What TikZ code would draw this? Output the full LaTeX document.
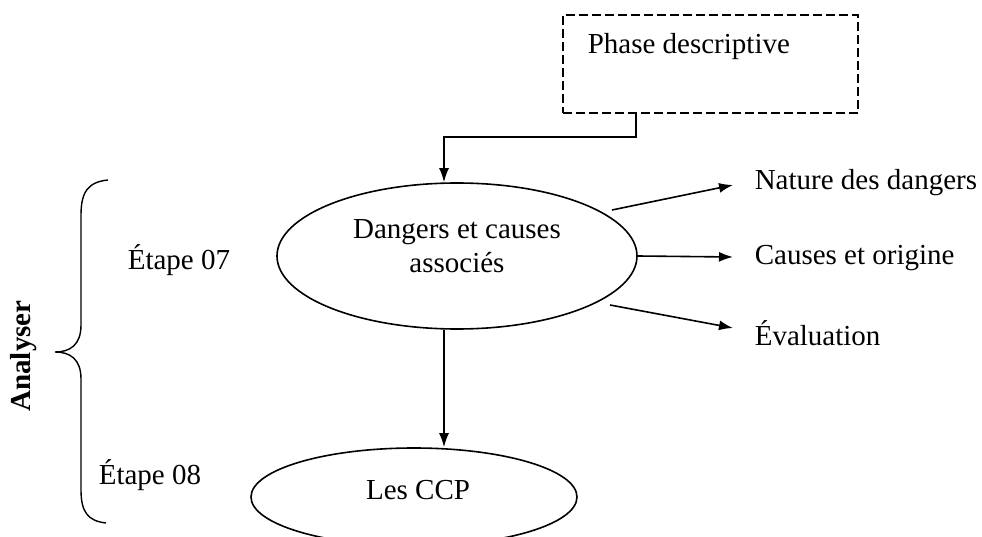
\documentclass[tikz,border=0pt]{standalone}
\usepackage{fontspec}
\setmainfont{Liberation Serif}
\usetikzlibrary{shapes.geometric,arrows.meta}
\begin{document}
\begin{tikzpicture}[x=1pt,y=-1pt,
  font=\fontsize{29}{34}\selectfont,
  line width=1.6pt,
  arr/.style={-{Latex[length=14pt,width=10pt]}},
  oval/.style={draw,ellipse,inner sep=0pt},
  lbl/.style={anchor=west,inner sep=0pt},
  dashbox/.style={draw,line width=1.9pt,dash pattern=on 9pt off 4pt,inner sep=0pt}]
\useasboundingbox (0,0) rectangle (982,537);

% upper block: descriptive phase
\node[dashbox,minimum width=295pt,minimum height=98pt] (phase) at (710.5,64) {};
\node[lbl] (phasetxt) at (587,47) {Phase descriptive};

% hazards and causes
\node[oval,minimum width=360pt,minimum height=146pt] (dang) at (457,256) {};
\node[align=center,inner sep=0pt] (dangtxt) at (457,246) {Dangers et causes\\associés};

% critical control points (runs off the bottom edge)
\begin{scope}
\clip (0,0) rectangle (982,537);
\node[oval,minimum width=326pt,minimum height=98pt] (ccp) at (414,497) {};
\end{scope}
\node[inner sep=0pt] (ccptxt) at (418,490) {Les CCP};

% right-hand outputs
\node[lbl] (nat) at (754,183) {Nature des dangers};
\node[lbl] (cau) at (754,258) {Causes et origine};
\node[lbl] (eva) at (754,333) {Évaluation};

% step labels
\node[lbl] (e7) at (127,260) {Étape 07};
\node[lbl] (e8) at (98,475) {Étape 08};
\node[rotate=90,font=\fontsize{29}{34}\selectfont\bfseries] (an) at (24,356) {Analyser};

% brace grouping both steps
\draw[line width=1.4pt] (108,180) .. controls (88,182) and (81,192) .. (81,215) -- (81,325)
  .. controls (81,345) and (70,352) .. (55,352)
  .. controls (70,352) and (81,359) .. (81,379) -- (81,490)
  .. controls (81,512) and (88,521) .. (106,523);

% connectors
\coordinate (bend) at (444,137);
\draw[arr] ([xshift=-74.5pt]phase.south) |- (bend) -- (bend |- dang.north);
\draw[arr] (bend |- dang.south) -- (bend |- ccp.north);
\draw[arr] ([shift={(155,-46)}]dang.center) -- ([xshift=-21pt,yshift=-2pt]nat.west);
\draw[arr] (dang.east) -- ([xshift=-21pt,yshift=1pt]cau.west);
\draw[arr] ([shift={(153,49)}]dang.center) -- ([xshift=-21pt,yshift=5pt]eva.west);
\end{tikzpicture}
\end{document}
